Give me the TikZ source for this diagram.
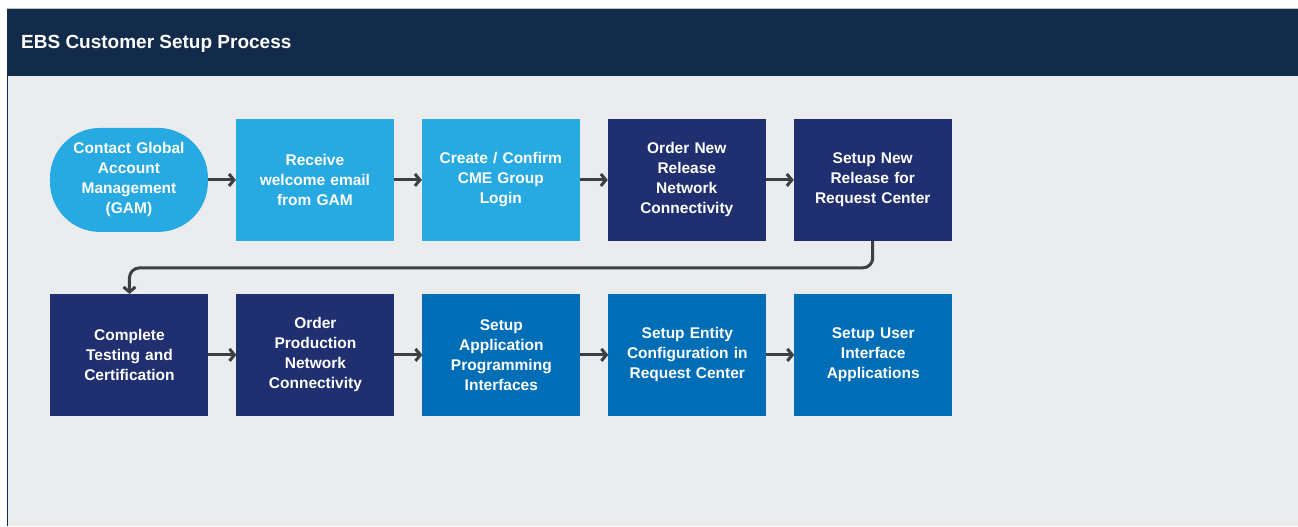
\documentclass[tikz,border=0pt]{standalone}
\usepackage{fontspec}
\setmainfont{Liberation Sans}
\usetikzlibrary{arrows.meta, positioning}
\definecolor{ebshead}{HTML}{132B4A}
\definecolor{ebsback}{HTML}{EBECEE}
\definecolor{ebslight}{HTML}{27A9E1}
\definecolor{ebsnavy}{HTML}{1F2F6F}
\definecolor{ebsblue}{HTML}{006EB7}
\definecolor{ebsline}{HTML}{3B4046}
\tikzstyle{tikzstep} = [rectangle, minimum width=158pt, minimum height=122pt, text width=152pt, align=center, text=white, inner sep=0pt, outer sep=0pt, font=\bfseries\fontsize{15.5}{20}\selectfont]
\tikzstyle{tikzgam} = [tikzstep, minimum height=104pt, rounded corners=50pt, fill=ebslight]
\tikzstyle{tikzlight} = [tikzstep, fill=ebslight]
\tikzstyle{tikznavy} = [tikzstep, fill=ebsnavy]
\tikzstyle{tikzblue} = [tikzstep, fill=ebsblue]
\tikzstyle{tikzarrow} = [draw=ebsline, line width=3pt, -{Straight Barb[length=5pt, width=12pt, line width=3pt]}]

\begin{document}
\begin{tikzpicture}[x=1pt, y=1pt, node distance=28pt]
    % frame
    \fill[white] (0,0) rectangle (1298,-526);
    \fill[ebshead] (7,-8) rectangle (1298,-76);
    \fill[ebsback] (8.5,-76) rectangle (1298,-526);
    \draw[ebshead, line width=1.5pt] (7.75,-76) -- (7.75,-526);
    \draw[black!25, line width=0.8pt] (7,-8.4) -- (1298,-8.4);
    \node (title) [anchor=west, text=white, inner sep=0pt, font=\bfseries\fontsize{19}{22}\selectfont] at (21,-44) {EBS Customer Setup Process};

    % first row
    \node (gam) [tikzgam] at (129,-180) {Contact Global\\Account\\Management\\(GAM)};
    \node (welcome) [tikzlight, right=28pt of gam] {Receive\\welcome email\\from GAM};
    \node (login) [tikzlight, right=of welcome] {Create / Confirm\\CME Group\\Login};
    \node (relnet) [tikznavy, right=of login] {Order New\\Release\\Network\\Connectivity};
    \node (relrc) [tikznavy, right=of relnet] {Setup New\\Release for\\Request Center};

    % second row
    \node (testing) [tikznavy] at (129.5,-355) {Complete\\Testing and\\Certification};
    \node (prodnet) [tikznavy, right=of testing] {Order\\Production\\Network\\Connectivity};
    \node (api) [tikzblue, right=of prodnet] {Setup\\Application\\Programming\\Interfaces};
    \node (entity) [tikzblue, right=of api] {Setup Entity\\Configuration in\\Request Center};
    \node (uiapp) [tikzblue, right=of entity] {Setup User\\Interface\\Applications};

    \draw [tikzarrow] (gam) -- (welcome);
    \draw [tikzarrow] (welcome) -- (login);
    \draw [tikzarrow] (login) -- (relnet);
    \draw [tikzarrow] (relnet) -- (relrc);
    \draw [tikzarrow, rounded corners=10pt] (relrc.south) -- ++(0,-27) -| (testing.north);
    \draw [tikzarrow] (testing) -- (prodnet);
    \draw [tikzarrow] (prodnet) -- (api);
    \draw [tikzarrow] (api) -- (entity);
    \draw [tikzarrow] (entity) -- (uiapp);
\end{tikzpicture}
\end{document}
